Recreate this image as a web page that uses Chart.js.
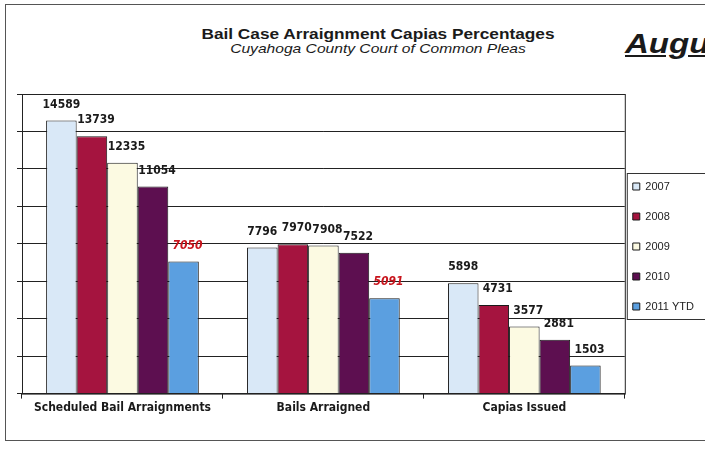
<html><head>
<meta charset="UTF-8">
<title>Bail Case Arraignment Capias Percentages</title>
<style>
  body {
    margin: 0;
    width: 705px;
    height: 449px;
    overflow: hidden;
    background: #fff;
    position: relative;
    font-family: 'Liberation Sans', Arial, sans-serif;
    color: #1a1a1a;
  }
  .frame {
    position: absolute;
    left: 5px;
    top: 4px;
    width: 730px;
    height: 435px;
    border: 1.5px solid #555;
  }
  .title {
    position: absolute;
    left: 100px;
    width: 556px;
    text-align: center;
    white-space: nowrap;
  }
  #t1 { top: 25px; font-size: 15px; font-weight: bold; transform: scaleX(1.15); }
  #t2 { top: 41px; font-size: 13px; font-style: italic; transform: scaleX(1.2); }
  #month {
    position: absolute;
    left: 625px;
    top: 28px;
    font-size: 28px;
    font-weight: bold;
    font-style: italic;
    text-decoration: underline;
    white-space: nowrap;
    transform: scaleX(1.18);
    transform-origin: left top;
  }
  #chart { position: absolute; left: 0; top: 0; }
</style>
<script src="https://cdn.jsdelivr.net/npm/chart.js"></script>
</head>
<body>
  <div class="frame"></div>
  <div class="title" id="t1">Bail Case Arraignment Capias Percentages</div>
  <div class="title" id="t2">Cuyahoga County Court of Common Pleas</div>
  <div id="month">August</div>
  <canvas id="chart" width="715" height="449"></canvas>

  <script>
    const categories = ['Scheduled Bail Arraignments', 'Bails Arraigned', 'Capias Issued'];
    const years = ['2007', '2008', '2009', '2010', '2011 YTD'];
    const v2007 = [14589, 7796, 5898];
    const v2008 = [13739, 7970, 4731];
    const v2009 = [12335, 7908, 3577];
    const v2010 = [11054, 7522, 2881];
    const v2011 = [7050, 5091, 1503];
    const yTicks = [0, 2000, 4000, 6000, 8000, 10000, 12000, 14000, 16000];

    const barColors = ['#d9e8f7', '#a5143f', '#fcfae2', '#5d0f50', '#5b9fe0'];
    const fontName = "'DejaVu Sans Condensed', 'Liberation Sans', Arial, sans-serif";
    // the red italic labels on the 2011 YTD bars
    const redLabel = [false, false, false, false, true];
    const redLabelCat = [true, true, false];

    const series = [v2007, v2008, v2009, v2010, v2011];

    // nudge the legend so it sits right next to the plot like the original
    const legendShift = {
      id: 'legendShift',
      afterLayout(chart) {
        const lg = chart.legend;
        lg.left -= 11; lg.right -= 11;
        lg.top -= 9; lg.bottom -= 9;
      }
    };

    const plotBorder = {
      id: 'plotBorder',
      afterDraw(chart) {
        const { ctx, chartArea } = chart;
        ctx.save();
        ctx.strokeStyle = '#222';
        ctx.lineWidth = 1;
        ctx.strokeRect(chartArea.left + 0.5, chartArea.top + 0.5, chartArea.right - chartArea.left, chartArea.bottom - chartArea.top);
        // legend frame
        const boxes = chart.legend.legendHitBoxes;
        if (boxes && boxes.length) {
          const first = boxes[0];
          const last = boxes[boxes.length - 1];
          ctx.strokeStyle = '#333';
          ctx.strokeRect(first.left - 5.5, first.top - 7.5, 200, last.top + last.height - first.top + 15);
        }
        ctx.restore();
      }
    };

    const valueLabels = {
      id: 'valueLabels',
      afterDatasetsDraw(chart) {
        const ctx = chart.ctx;
        ctx.save();
        ctx.textAlign = 'center';
        ctx.textBaseline = 'middle';
        chart.data.datasets.forEach((ds, i) => {
          const meta = chart.getDatasetMeta(i);
          meta.data.forEach((bar, j) => {
            const red = redLabel[i] && redLabelCat[j];
            ctx.fillStyle = red ? '#c8141c' : '#1a1a1a';
            ctx.font = (red ? 'italic ' : '') + 'bold 12px ' + fontName;
            ctx.fillText(ds.data[j], bar.x + (i === 0 ? 0 : 4), bar.y - 16);
          });
        });
        ctx.restore();
      }
    };

    const ctx = document.getElementById('chart').getContext('2d');
    new Chart(ctx, {
      type: 'bar',
      data: {
        labels: categories,
        datasets: years.map((y, i) => ({
          label: y,
          data: series[i],
          backgroundColor: barColors[i],
          borderColor: '#1a1a1a',
          borderWidth: 1,
          categoryPercentage: 0.76,
          barPercentage: 1
        }))
      },
      options: {
        responsive: false,
        animation: false,
        layout: { padding: { left: 17, top: 94, bottom: 32, right: 0 } },
        scales: {
          x: {
            grid: { display: true, drawOnChartArea: false, drawTicks: true, tickLength: 5, color: '#222' },
            border: { display: true, color: '#222' },
            ticks: { color: '#1a1a1a', font: { family: fontName, size: 12, weight: 'bold' }, padding: 2 }
          },
          y: {
            min: 0,
            max: 16000,
            afterBuildTicks: (axis) => { axis.ticks = yTicks.map(v => ({ value: v })); },
            ticks: { display: false },
            grid: { color: '#222', tickLength: 5 },
            border: { display: true, color: '#222' }
          }
        },
        plugins: {
          legend: {
            position: 'right',
            align: 'center',
            labels: {
              boxWidth: 7,
              boxHeight: 7,
              padding: 19,
              color: '#222',
              font: { family: "'Liberation Sans', Arial, sans-serif", size: 11 }
            }
          },
          tooltip: { enabled: false }
        }
      },
      plugins: [legendShift, plotBorder, valueLabels]
    });
  </script>
</body></html>
